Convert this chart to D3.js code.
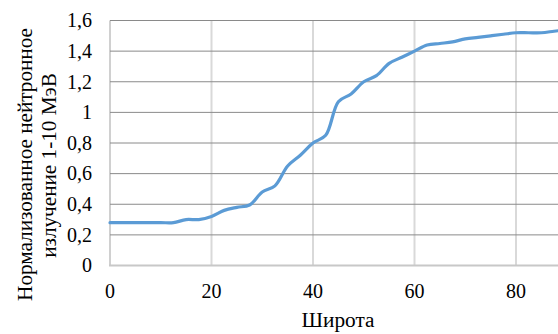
<!DOCTYPE html>
<html><head><meta charset="utf-8">
<script src="https://cdn.jsdelivr.net/npm/d3@7"></script>
<style>
html,body{margin:0;padding:0;background:#fff;overflow:hidden;}
</style></head>
<body>
<svg id="c" width="558" height="334"></svg>
<script>
const latitude = [0,5,10,12.5,15,17.5,20,22.5,25,27.5,30,32.5,35,37.5,40,42.5,45,47.5,50,52.5,55,57.5,60,62.5,65,67.5,70,72.5,75,77.5,80,82.5,85,87.5,90];
const neutron  = [0.28,0.28,0.28,0.28,0.30,0.30,0.32,0.36,0.38,0.395,0.48,0.52,0.65,0.72,0.80,0.85,1.07,1.12,1.20,1.24,1.32,1.36,1.40,1.44,1.45,1.46,1.48,1.49,1.50,1.51,1.52,1.52,1.52,1.53,1.54];
const xTicks = [0,20,40,60,80];
const yTicks = [0,0.2,0.4,0.6,0.8,1,1.2,1.4,1.6];
const xTitle = "Широта";
const yTitle = ["Нормализованное нейтронное","излучение 1-10 МэВ"];

const FF = "'Liberation Serif', 'Times New Roman', serif";
const svg = d3.select("#c");
const L = 110, T = 20.5, B = 265.5;
const x = d3.scaleLinear().domain([0,90]).range([L, L + 90*5.075]);
const y = d3.scaleLinear().domain([0,1.6]).range([B, T]);
const fmt = v => String(v).replace(".", ",");

svg.append("g").selectAll("line").data(xTicks.filter(d=>d>0)).join("line")
  .attr("x1", d=>x(d)).attr("x2", d=>x(d)).attr("y1", T).attr("y2", B)
  .attr("stroke", "#d9d9d9").attr("stroke-width", 2);
svg.append("line").attr("x1", L).attr("x2", L).attr("y1", T).attr("y2", B)
  .attr("stroke", "#d0d0d0").attr("stroke-width", 2);
svg.append("g").selectAll("line").data(yTicks.filter(d=>d>0)).join("line")
  .attr("x1", L).attr("x2", 558).attr("y1", d=>y(d)).attr("y2", d=>y(d))
  .attr("stroke", "#8a8a8a").attr("stroke-width", 1);
svg.append("line").attr("x1", L-1).attr("x2", 558).attr("y1", B).attr("y2", B)
  .attr("stroke", "#c8c8c8").attr("stroke-width", 2);

svg.append("g").selectAll("text").data(yTicks).join("text")
  .attr("x", 92).attr("y", d=>y(d)).attr("dy", "0.34em")
  .attr("text-anchor", "end").attr("font-family", FF).attr("font-size", 20).text(fmt);
svg.append("g").selectAll("text").data(xTicks).join("text")
  .attr("x", d=>x(d)).attr("y", 298)
  .attr("text-anchor", "middle").attr("font-family", FF).attr("font-size", 20).text(fmt);

svg.append("text").attr("x", 338).attr("y", 327).attr("text-anchor","middle")
  .attr("font-family", FF).attr("font-size", 21.3).text(xTitle);
svg.append("text").attr("transform","translate(32,164.5) rotate(-90)")
  .attr("text-anchor","middle").attr("font-family", FF).attr("font-size", 21.2).text(yTitle[0]);
svg.append("text").attr("transform","translate(56,165.5) rotate(-90)")
  .attr("text-anchor","middle").attr("font-family", FF).attr("font-size", 21.2).text(yTitle[1]);

const line = d3.line().x((d,i)=>x(latitude[i])).y(d=>y(d)).curve(d3.curveCatmullRom.alpha(0.5));
svg.append("path").datum(neutron).attr("d", line)
  .attr("fill","none").attr("stroke","#5b9bd5").attr("stroke-width",3.2)
  .attr("stroke-linejoin","round").attr("stroke-linecap","round");
</script>
</body></html>
